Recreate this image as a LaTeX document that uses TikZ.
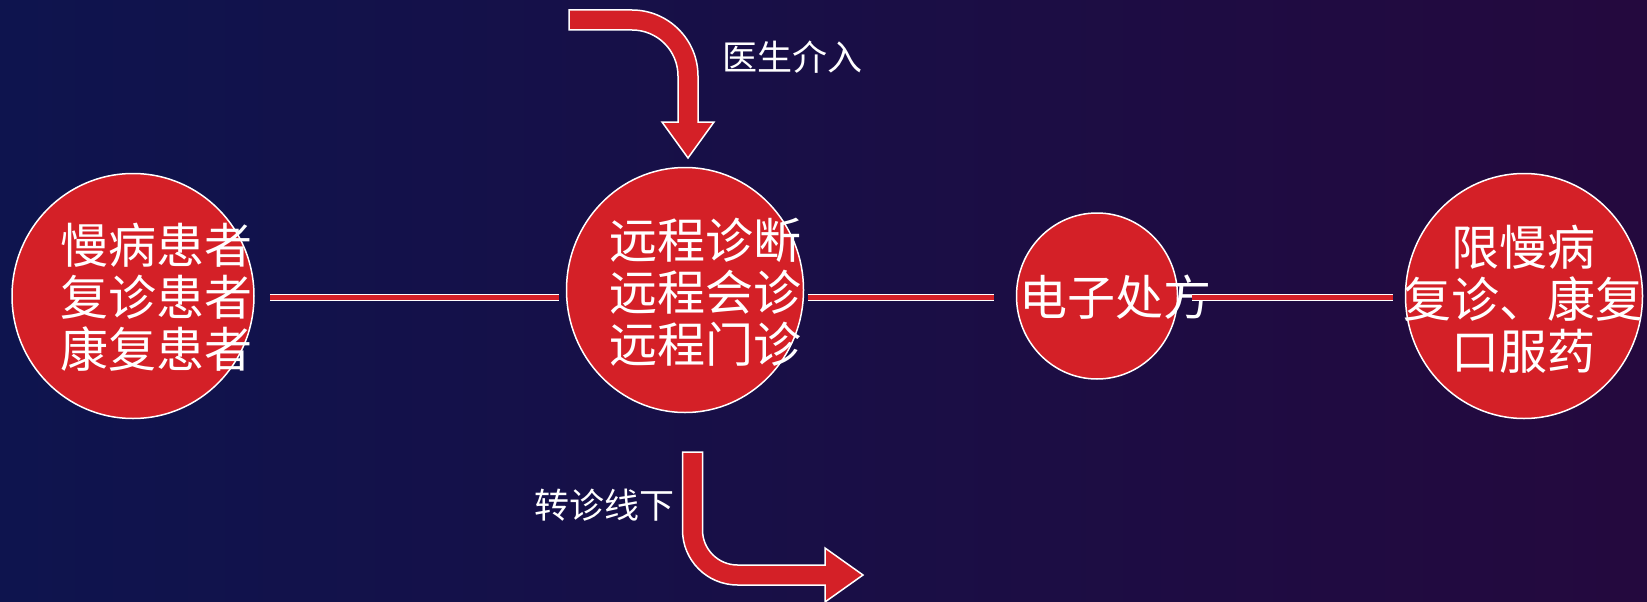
\documentclass[tikz,border=0pt]{standalone}
\usepackage{fontspec}
\newfontfamily\cjk{Noto Sans CJK SC}
\usetikzlibrary{shapes.geometric}
\definecolor{bgL}{RGB}{14,20,78}
\definecolor{bgR}{RGB}{36,9,62}
\definecolor{cred}{RGB}{212,32,39}
\tikzset{
  disc/.style={ellipse, fill=cred, draw=white, line width=1.5pt, inner sep=0pt},
  big/.style={text=white, align=center, inner sep=0pt, font=\cjk\fontsize{48}{52}\selectfont},
  lbl/.style={text=white, inner sep=0pt, font=\cjk\fontsize{35}{40}\selectfont},
  link/.style={draw=white, double=cred, double distance=5pt, line width=1pt},
  bentarrow/.style={fill=cred, draw=white, line width=1.5pt, line join=miter}
}
\begin{document}
\begin{tikzpicture}[x=1pt,y=-1pt]
\useasboundingbox (0,0) rectangle (1647,602);
\shade[left color=bgL, right color=bgR] (0,0) rectangle (1647,602);
% circles
\node[disc, minimum width=242pt, minimum height=245pt] (c1) at (133,296) {};
\node[disc, minimum width=237pt, minimum height=245pt] (c2) at (685,290) {};
\node[disc, minimum width=161pt, minimum height=166pt] (c3) at (1097,296) {};
\node[disc, minimum width=237pt, minimum height=245pt] (c4) at (1524,296) {};
% texts
\node[big] (t1) at (156,297) {慢病患者\\复诊患者\\康复患者};
\node[big] (t2) at (705,292) {远程诊断\\远程会诊\\远程门诊};
\node[big] (t3) at (1115,297) {电子处方};
\node[big] (t4) at (1523,299) {限慢病\\复诊、康复\\口服药};
% connectors
\coordinate (p1) at (c1.east |- 0,297);
\coordinate (p2) at (c2.west |- 0,297);
\coordinate (p3) at (c2.east |- 0,297);
\coordinate (p4) at (c3.west |- 0,297);
\coordinate (p5) at (c3.east |- 0,297);
\coordinate (p6) at (c4.west |- 0,297);
\draw[link, shorten <=15pt, shorten >=7pt] (p1) -- (p2);
\draw[link, shorten <=4pt, shorten >=22pt] (p3) -- (p4);
\draw[link, shorten <=14pt, shorten >=12pt] (p5) -- (p6);
% bent arrow: doctor intervention
\draw[bentarrow] (569,10) -- (632,10) .. controls (668.4,10) and (698,39.6) .. (698,76)
  -- (698,122) -- (714,122) -- (688,158) -- (662,122) -- (678,122) -- (678,76)
  .. controls (678,50.6) and (657.4,30) .. (632,30) -- (569,30) -- cycle;
\node[lbl, anchor=west] (l1) at (722,57) {医生介入};
% bent arrow: referral offline
\draw[bentarrow] (682.5,452) -- (682.5,530) .. controls (682.5,560.4) and (707.1,585) .. (737.5,585)
  -- (825,585) -- (825,602) -- (863,575) -- (825,548) -- (825,565) -- (737.5,565)
  .. controls (718.2,565) and (702.5,549.3) .. (702.5,530) -- (702.5,452) -- cycle;
\node[lbl, anchor=east] (l2) at (675,505) {转诊线下};
\end{tikzpicture}
\end{document}
